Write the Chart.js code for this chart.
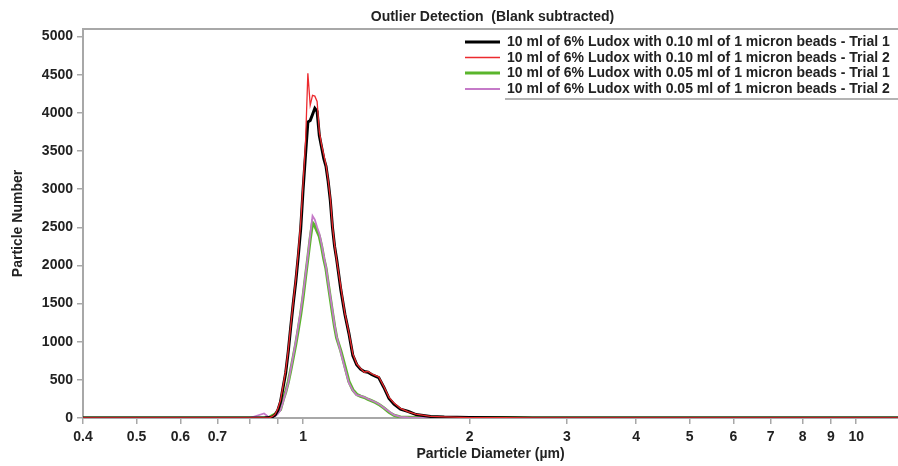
<!DOCTYPE html>
<html>
<head>
<meta charset="utf-8">
<script src="https://cdn.jsdelivr.net/npm/chart.js@4/dist/chart.umd.min.js"></script>
<style>
  html, body { margin: 0; padding: 0; background: #fff; }
  canvas { display: block; }
</style>
</head>
<body>
<canvas id="c" width="898" height="466"></canvas>
<script>
// ---- Data ----
const chartTitle = 'Outlier Detection  (Blank subtracted)';
const xTitle = 'Particle Diameter (µm)';
const yTitle = 'Particle Number';

const seriesLabels = [
  '10 ml of 6% Ludox with 0.10 ml of 1 micron beads - Trial 1',
  '10 ml of 6% Ludox with 0.10 ml of 1 micron beads - Trial 2',
  '10 ml of 6% Ludox with 0.05 ml of 1 micron beads - Trial 1',
  '10 ml of 6% Ludox with 0.05 ml of 1 micron beads - Trial 2'
];

// particle diameter (µm)
const diameters = [
  0.40, 0.80, 0.85, 0.87, 0.88, 0.89, 0.90, 0.91, 0.92, 0.93, 0.94, 0.95, 0.96, 0.97, 0.98, 0.99,
  1.00, 1.01, 1.02, 1.03, 1.04, 1.05, 1.06, 1.07, 1.08, 1.09, 1.10, 1.11, 1.12, 1.13, 1.14, 1.15,
  1.17, 1.19, 1.21, 1.23, 1.25, 1.27, 1.29, 1.31, 1.33, 1.35, 1.37,
  1.40, 1.43, 1.46, 1.50, 1.55, 1.60, 1.70, 1.80,
  2.0, 2.3, 2.6, 3.0, 11.9
];

const beads010Trial1 = [
  0, 0, 0, 5, 15, 40, 100, 210, 400, 590, 870, 1200, 1510, 1790, 2120, 2480,
  3000, 3450, 3880, 3900, 3980, 4060, 4020, 3700, 3550, 3400, 3300, 3100, 2850, 2500, 2250, 2080,
  1680, 1360, 1110, 820, 700, 640, 610, 600, 570, 550, 530,
  400, 255, 180, 115, 85, 45, 20, 12,
  5, 3, 0, 0, 0
];

const beads010Trial2 = [
  0, 0, 0, 5, 20, 50, 120, 230, 420, 620, 890, 1220, 1530, 1820, 2170, 2560,
  3080, 3600, 4520, 4100, 4230, 4220, 4150, 3750, 3580, 3450, 3320, 3120, 2880, 2520, 2270, 2070,
  1720, 1370, 1120, 840, 710, 650, 600, 610, 580, 560, 540,
  410, 270, 195, 125, 80, 50, 22, 14,
  6, 3, 0, 0, 0
];

const beads005Trial1 = [
  0, 0, 0, 10, 30, 50, 80, 110, 236, 340, 470, 630, 800, 970, 1160, 1360,
  1590, 1850, 2100, 2350, 2560, 2520, 2450, 2380, 2250, 2090, 1960, 1760, 1570, 1380, 1200, 1050,
  880, 680, 480, 370, 310, 285, 270, 245, 225, 205, 180,
  130, 75, 35, 12, 8, 6, 8, 5,
  6, 4, 0, 0, 0
];

const beads005Trial2 = [
  0, 0, 60, 5, 15, 25, 55, 100, 210, 330, 460, 640, 820, 1000, 1200, 1400,
  1630, 1880, 2130, 2400, 2650, 2600, 2500, 2420, 2280, 2120, 1980, 1780, 1590, 1410, 1220, 1070,
  860, 650, 460, 360, 300, 290, 275, 250, 230, 210, 185,
  135, 85, 40, 15, 8, 5, 4, 3,
  2, 2, 0, 0, 0
];

const xTickValues = [0.4, 0.5, 0.6, 0.7, 0.8, 0.9, 1, 2, 3, 4, 5, 6, 7, 8, 9, 10];
const xTickLabels = ['0.4', '0.5', '0.6', '0.7', '', '', '1', '2', '3', '4', '5', '6', '7', '8', '9', '10'];
const yTickValues = [0, 500, 1000, 1500, 2000, 2500, 3000, 3500, 4000, 4500, 5000];

// ---- Styles ----
const FONT = '"Liberation Sans", Arial, sans-serif';
const TEXT = '#222';
const AXIS = '#a8a8a8';

const seriesValues = [beads010Trial1, beads010Trial2, beads005Trial1, beads005Trial2];
const seriesColors = ['#000000', '#ec2a2e', '#5ab52c', '#c57ac8'];
const seriesWidths = [3, 1.3, 3.2, 1.8];
const seriesOrder = [2, 1, 4, 3];

const datasets = seriesValues.map((vals, i) => ({
  label: seriesLabels[i],
  data: diameters.map((d, j) => ({ x: d, y: vals[j] })),
  borderColor: seriesColors[i],
  backgroundColor: seriesColors[i],
  borderWidth: seriesWidths[i],
  pointRadius: 0,
  tension: 0,
  fill: false,
  order: seriesOrder[i]
}));

const decorPlugin = {
  id: 'decor',
  afterDraw(chart) {
    const { ctx, chartArea } = chart;
    ctx.save();
    // top frame line
    ctx.strokeStyle = AXIS;
    ctx.lineWidth = 2;
    ctx.beginPath();
    ctx.moveTo(chartArea.left, chartArea.top);
    ctx.lineTo(chartArea.right, chartArea.top);
    ctx.stroke();
    // title
    ctx.fillStyle = TEXT;
    ctx.font = 'bold 14px ' + FONT;
    ctx.textAlign = 'center';
    ctx.textBaseline = 'middle';
    ctx.fillText(chartTitle, (chartArea.left + chartArea.right) / 2 + 2, 17);
    // legend
    const lineX0 = 465, lineX1 = 500, textX = 507;
    const rowY = [42, 57.5, 73, 89];
    ctx.textAlign = 'left';
    chart.data.datasets.forEach((ds, i) => {
      const y = rowY[i];
      ctx.strokeStyle = ds.borderColor;
      ctx.lineWidth = ds.borderWidth;
      ctx.beginPath();
      ctx.moveTo(lineX0, y);
      ctx.lineTo(lineX1, y);
      ctx.stroke();
      ctx.fillStyle = TEXT;
      ctx.fillText(ds.label, textX, y + 0.5);
    });
    // legend underline
    ctx.strokeStyle = '#9a9a9a';
    ctx.lineWidth = 1.5;
    ctx.beginPath();
    ctx.moveTo(505, 99);
    ctx.lineTo(898, 99);
    ctx.stroke();
    ctx.restore();
  }
};

new Chart(document.getElementById('c'), {
  type: 'line',
  data: { datasets },
  options: {
    responsive: false,
    devicePixelRatio: 1,
    animation: false,
    layout: { padding: { top: 29, left: 0, right: 0, bottom: 0 } },
    plugins: {
      legend: { display: false },
      title: { display: false },
      tooltip: { enabled: false }
    },
    scales: {
      x: {
        type: 'logarithmic',
        min: 0.4,
        max: 11.9,
        afterBuildTicks: s => { s.ticks = xTickValues.map(v => ({ value: v })); },
        afterFit: s => { s.height = 48; },
        ticks: {
          autoSkip: false,
          maxRotation: 0,
          padding: 5,
          color: TEXT,
          font: { family: FONT, size: 14, weight: 'bold' },
          callback: (v, i) => xTickLabels[i]
        },
        grid: { drawOnChartArea: false, drawTicks: true, tickLength: 6, color: AXIS, lineWidth: 1.5 },
        border: { display: true, color: AXIS, width: 2 },
        title: {
          display: true,
          text: xTitle,
          color: TEXT,
          font: { family: FONT, size: 14, weight: 'bold' },
          padding: { top: 0, bottom: 3 }
        }
      },
      y: {
        type: 'linear',
        min: 0,
        max: 5100,
        afterBuildTicks: s => { s.ticks = yTickValues.map(v => ({ value: v })); },
        afterFit: s => { s.width = 83; },
        ticks: {
          padding: 4,
          color: TEXT,
          font: { family: FONT, size: 14, weight: 'bold' },
          callback: v => String(v)
        },
        grid: { drawOnChartArea: false, drawTicks: true, tickLength: 6, color: AXIS, lineWidth: 1.5 },
        border: { display: true, color: AXIS, width: 2 },
        title: {
          display: true,
          text: yTitle,
          color: TEXT,
          font: { family: FONT, size: 14, weight: 'bold' },
          padding: { top: 10, bottom: 0 }
        }
      }
    }
  },
  plugins: [decorPlugin]
});
</script>
</body>
</html>
